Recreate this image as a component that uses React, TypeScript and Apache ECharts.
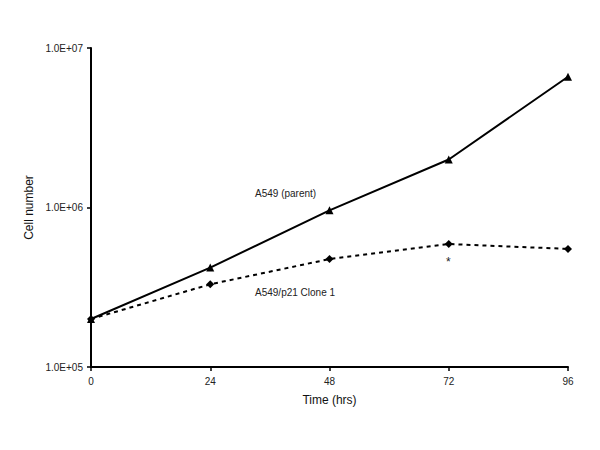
import React, { useEffect, useRef } from "react";
import * as echarts from "echarts";

const timePoints = [0, 24, 48, 72, 96];
const parentValues = [2.0e5, 4.2e5, 9.6e5, 2.0e6, 6.6e6];
const cloneValues = [2.0e5, 3.3e5, 4.75e5, 5.9e5, 5.5e5];
const xTicks = [0, 24, 48, 72, 96];
const parentLabel = "A549 (parent)";
const cloneLabel = "A549/p21 Clone 1";

const FONT = "Liberation Sans, Arial, sans-serif";

export default function App() {
  const ref = useRef<HTMLDivElement>(null);
  useEffect(() => {
    document.body.style.margin = "0";
    if (!ref.current) return;
    const chart = echarts.init(ref.current, null, { renderer: "svg" });
    chart.setOption({
      animation: false,
      backgroundColor: "#ffffff",
      grid: { left: 91, right: 32, top: 48, bottom: 83, containLabel: false },
      xAxis: {
        type: "value",
        min: 0,
        max: 96,
        interval: 24,
        name: "Time (hrs)",
        nameLocation: "middle",
        nameGap: 27,
        nameTextStyle: { fontFamily: FONT, fontSize: 12, color: "#111" },
        axisLine: { lineStyle: { color: "#000", width: 2 } },
        axisTick: { show: true, length: 4, lineStyle: { color: "#000", width: 1.5 } },
        axisLabel: {
          fontFamily: FONT,
          fontSize: 10,
          color: "#222",
          margin: 9,
          formatter: (v: number) => (xTicks.includes(v) ? String(v) : ""),
        },
        splitLine: { show: false },
      },
      yAxis: {
        type: "log",
        logBase: 10,
        min: 1e5,
        max: 1e7,
        name: "Cell number",
        nameLocation: "middle",
        nameGap: 52,
        nameRotate: 90,
        nameTextStyle: { fontFamily: FONT, fontSize: 12, color: "#111" },
        axisLine: { show: true, lineStyle: { color: "#000", width: 2 } },
        axisTick: { show: true, length: 4, lineStyle: { color: "#000", width: 1.5 } },
        minorTick: { show: false },
        axisLabel: {
          fontFamily: FONT,
          fontSize: 10,
          color: "#222",
          margin: 8,
          formatter: (v: number) => {
            const e = Math.round(Math.log10(v));
            return "1.0E+" + (e < 10 ? "0" + e : String(e));
          },
        },
        splitLine: { show: false },
      },
      series: [
        {
          name: parentLabel,
          type: "line",
          data: timePoints.map((t, i) => [t, parentValues[i]]),
          symbol: "triangle",
          symbolSize: 8,
          itemStyle: { color: "#000" },
          lineStyle: { color: "#000", width: 2 },
        },
        {
          name: cloneLabel,
          type: "line",
          data: timePoints.map((t, i) => [t, cloneValues[i]]),
          symbol: "diamond",
          symbolSize: 8,
          itemStyle: { color: "#000" },
          lineStyle: { color: "#000", width: 2, type: [4, 4] },
        },
      ],
      graphic: [
        {
          type: "text",
          left: 255,
          top: 188,
          style: { text: parentLabel, fontFamily: FONT, fontSize: 10, fill: "#222" },
        },
        {
          type: "text",
          left: 255,
          top: 287,
          style: { text: cloneLabel, fontFamily: FONT, fontSize: 10, fill: "#222" },
        },
        {
          type: "text",
          left: 446,
          top: 256,
          style: { text: "*", fontFamily: FONT, fontSize: 12, fill: "#222" },
        },
      ],
    });
    return () => chart.dispose();
  }, []);
  return <div ref={ref} style={{ width: 600, height: 450 }} />;
}
